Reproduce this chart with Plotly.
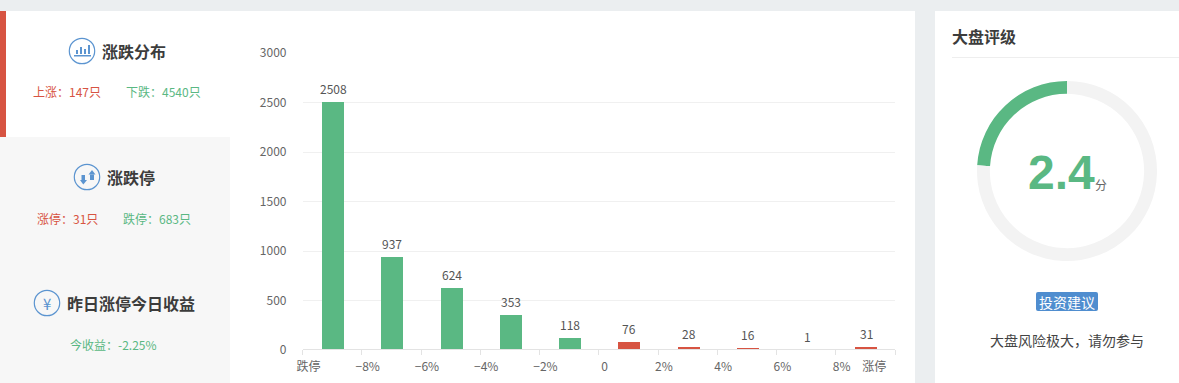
import plotly.graph_objects as go

W, H = 1179, 383
FONT = "Noto Sans CJK SC"
GREEN = "#5ab883"
RED = "#d75442"
BLUE = "#5b94d0"
DARK = "#3c3c3c"

# ---- chart data ----
positions = [0, 1, 2, 3, 4, 5, 6, 7, 8, 9]
counts = [2508, 937, 624, 353, 118, 76, 28, 16, 1, 31]
bar_colors = [GREEN] * 5 + [RED] * 5
bar_opacity = [1, 1, 1, 1, 1, 1, 1, 1, 0.08, 1]
boundary_ticks = [-0.5, 0.5, 1.5, 2.5, 3.5, 4.5, 5.5, 6.5, 7.5, 8.5, 9.5]
label_positions = [-0.4, 0.6, 1.6, 2.6, 3.6, 4.6, 5.6, 6.6, 7.6, 8.6, 9.15]
label_texts = ["跌停", "−8%", "−6%", "−4%", "−2%", "0", "2%", "4%", "6%", "8%", "涨停"]
y_ticks = [0, 500, 1000, 1500, 2000, 2500, 3000]
score = [2.4, 7.6]
score_colors = [GREEN, "#f3f3f3"]


def px(x):
    return x / W


def py(y):
    return 1 - y / H


def rect(x0, y0, x1, y1, color):
    return dict(type="rect", xref="paper", yref="paper", x0=px(x0), x1=px(x1),
                y0=py(y0), y1=py(y1), fillcolor=color, line_width=0, layer="below")


def circle(cx, cy, r):
    return dict(type="circle", xref="paper", yref="paper", x0=px(cx - r), x1=px(cx + r),
                y0=py(cy + r), y1=py(cy - r), line=dict(color=BLUE, width=1.2), layer="below")


def poly(points, color):
    path = "M " + " L ".join(f"{px(a)} {py(b)}" for a, b in points) + " Z"
    return dict(type="path", xref="paper", yref="paper", path=path, fillcolor=color,
                line_width=0, layer="above")


def round_rect(x0, y0, x1, y1, r, color):
    path = (f"M {px(x0 + r)} {py(y0)} L {px(x1 - r)} {py(y0)} Q {px(x1)} {py(y0)} {px(x1)} {py(y0 + r)} "
            f"L {px(x1)} {py(y1 - r)} Q {px(x1)} {py(y1)} {px(x1 - r)} {py(y1)} "
            f"L {px(x0 + r)} {py(y1)} Q {px(x0)} {py(y1)} {px(x0)} {py(y1 - r)} "
            f"L {px(x0)} {py(y0 + r)} Q {px(x0)} {py(y0)} {px(x0 + r)} {py(y0)} Z")
    return dict(type="path", xref="paper", yref="paper", path=path, fillcolor=color,
                line_width=0, layer="below")


def icon_rect(x0, y0, x1, y1):
    d = rect(x0, y0, x1, y1, BLUE)
    d["layer"] = "above"
    return d


def label(x, y, text, size=12, color=DARK, anchor="center", family=FONT):
    return dict(xref="paper", yref="paper", x=px(x), y=py(y), text=text, showarrow=False,
                xanchor=anchor, yanchor="middle", font=dict(size=size, color=color, family=family),
                borderpad=0, borderwidth=0)


shapes = [
    rect(0, 11, 915, 383, "#ffffff"),
    rect(0, 137, 230, 383, "#f7f7f7"),
    rect(0, 11, 6, 137, RED),
    rect(935, 11, 1179, 383, "#ffffff"),
    rect(952, 57, 1179, 58, "#eeeeee"),
    round_rect(1036, 292, 1098, 311, 2, "#4f8dcf"),
    circle(82, 51, 12.7),
    circle(87, 177, 12.7),
    circle(47, 303, 12.7),
    # bar-chart icon
    icon_rect(74, 55, 91, 56.5),
    icon_rect(76, 50, 78, 54),
    icon_rect(80, 47, 82, 54),
    icon_rect(84, 49, 86, 54),
    icon_rect(88, 45, 90, 54),
    # up/down arrows icon
    icon_rect(81.5, 175, 85, 180),
    poly([(80, 180), (87, 180), (83.3, 184.5)], BLUE),
    icon_rect(90, 174.5, 94, 180),
    poly([(88.5, 174.5), (95.5, 174.5), (92, 170)], BLUE),
]

annotations = [
    label(102, 51.5, "<b>涨跌分布</b>", 16, anchor="left"),
    label(33, 92, "上涨\uff1a147只", 12, RED, "left"),
    label(126, 92, "下跌\uff1a4540只", 12, GREEN, "left"),
    label(107, 176.5, "<b>涨跌停</b>", 16, anchor="left"),
    label(37, 218.5, "涨停\uff1a31只", 12, RED, "left"),
    label(123, 218.5, "跌停\uff1a683只", 12, GREEN, "left"),
    label(67, 303, "<b>昨日涨停今日收益</b>", 16, anchor="left"),
    label(70, 344.5, "今收益\uff1a-2.25%", 12, GREEN, "left"),
    label(47, 303, "¥", 15, BLUE),
    label(952, 36.5, "<b>大盘评级</b>", 16, anchor="left"),
    label(1061, 172, "<b>2.4</b>", 48, GREEN, family="Liberation Sans"),
    label(1100.5, 184.5, "分", 12, "#666666"),
    label(1067, 301.5, "投资建议", 14, "#ffffff"),
    label(1067, 340, "大盘风险极大\uff0c请勿参与", 14, "#444444"),
]

# value labels, taken from the data
for xv, v in zip(positions, counts):
    annotations.append(dict(x=xv, y=v, xref="x", yref="y", text=str(v), showarrow=False,
                            yshift=13.5, xshift=1, xanchor="center", yanchor="middle",
                            font=dict(size=12, color="#555555", family=FONT)))

fig = go.Figure()
fig.add_bar(x=positions, y=counts, marker=dict(color=bar_colors, opacity=bar_opacity, line_width=0),
            width=0.372, offset=-0.169, hoverinfo="skip", showlegend=False)
# carries the offset tick labels of the lower axis
fig.add_scatter(x=label_positions, y=[0] * len(label_positions), xaxis="x2", yaxis="y", mode="markers",
                marker=dict(opacity=0, size=1), hoverinfo="skip", showlegend=False)
fig.add_pie(values=score, marker=dict(colors=score_colors, line_width=0), hole=0.857, sort=False,
            direction="clockwise", rotation=-86.4, textinfo="none", hoverinfo="skip", showlegend=False,
            domain=dict(x=[px(977), px(1157)], y=[py(261), py(81)]))

x_domain = [px(302.5), px(895)]
fig.update_layout(
    width=W, height=H, margin=dict(l=0, r=0, t=0, b=0, pad=0, autoexpand=False),
    paper_bgcolor="#ebeef0", plot_bgcolor="rgba(0,0,0,0)",
    font=dict(family=FONT, size=12, color="#666666"),
    shapes=shapes, annotations=annotations, showlegend=False, bargap=0,
    xaxis=dict(domain=x_domain, range=[-0.5, 9.5], tickmode="array", tickvals=boundary_ticks,
               showticklabels=False, ticks="outside", ticklen=5, tickcolor="#e3e3e3", tickwidth=1,
               showline=True, linecolor="#e3e3e3", linewidth=1, showgrid=False, zeroline=False,
               anchor="free", position=py(349)),
    xaxis2=dict(domain=x_domain, range=[-0.5, 9.5], overlaying="x", side="bottom", anchor="y",
                tickmode="array", tickvals=label_positions, ticktext=label_texts,
                ticks="", showline=False, showgrid=False, zeroline=False, ticklabelstandoff=8,
                tickfont=dict(size=12, color="#666666", family=FONT)),
    yaxis=dict(domain=[py(350), py(53)], range=[0, 3000], tickmode="array", tickvals=y_ticks,
               showgrid=True, gridcolor="#f0f0f0", gridwidth=1, zeroline=False, showline=False, ticks="",
               ticklabelstandoff=15, tickfont=dict(size=12, color="#666666", family=FONT), anchor="x"),
)

fig.write_html("out.html", config=dict(displayModeBar=False, staticPlot=True),
               post_script="document.body.style.margin='0';document.body.style.overflow='hidden';")
